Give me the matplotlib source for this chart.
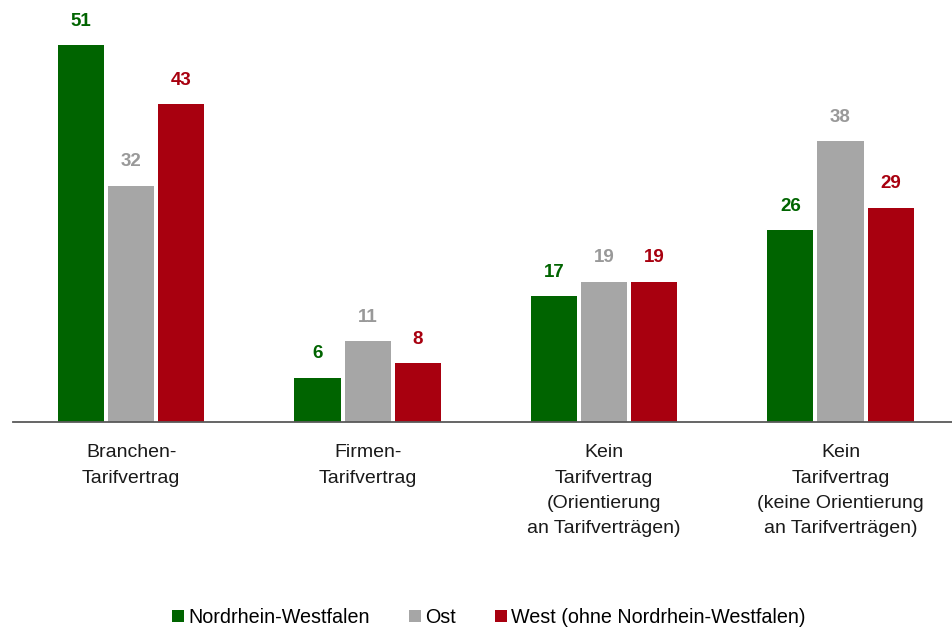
import numpy as np
import matplotlib
matplotlib.use("Agg")
import matplotlib.pyplot as plt
from matplotlib.patches import Patch

plt.rcParams['font.family'] = ['Liberation Sans', 'DejaVu Sans']

# data
categories = ["Branchen-\nTarifvertrag",
              "Firmen-\nTarifvertrag",
              "Kein\nTarifvertrag\n(Orientierung\nan Tarifverträgen)",
              "Kein\nTarifvertrag\n(keine Orientierung\nan Tarifverträgen)"]
series_names = ["Nordrhein-Westfalen", "Ost", "West (ohne Nordrhein-Westfalen)"]
nrw = [51, 6, 17, 26]
ost = [32, 11, 19, 38]
west = [43, 8, 19, 29]

colors = ["#006400", "#A6A6A6", "#A8000F"]
label_colors = ["#006400", "#999999", "#A8000F"]

fig = plt.figure(figsize=(9.53, 6.3), dpi=100)
ax = fig.add_axes([0.0136, 0.330, 0.985, 0.670])

x = np.arange(len(categories))
w = 0.195
step = 0.212
for i, vals in enumerate([nrw, ost, west]):
    pos = x + (i - 1) * step
    ax.bar(pos, vals, width=w, color=colors[i], linewidth=0)
    for p, v in zip(pos, vals):
        ax.annotate(str(v), (p, v), xytext=(0, 11), textcoords="offset points",
                    ha="center", va="bottom", fontsize=13.5, fontweight="bold",
                    color=label_colors[i])

ax.set_xlim(-0.5, 3.47)
ax.set_ylim(0, 57.1)
for s in ["top", "right", "left"]:
    ax.spines[s].set_visible(False)
ax.spines["bottom"].set_color("#595959")
ax.spines["bottom"].set_linewidth(1.3)
ax.set_yticks([])
ax.set_xticks(x)
ax.set_xticklabels(categories, fontsize=14, linespacing=1.64, color="#1a1a1a")
ax.tick_params(axis="x", length=0, pad=16)

handles = [Patch(facecolor=c, edgecolor="none") for c in colors]
fig.legend(handles, series_names, loc="center", bbox_to_anchor=(0.513, 0.02),
           ncol=3, frameon=False, fontsize=14.2, handlelength=0.6, handleheight=0.6,
           handletextpad=0.2, columnspacing=2.0)

fig.savefig("out.png", dpi=100)
